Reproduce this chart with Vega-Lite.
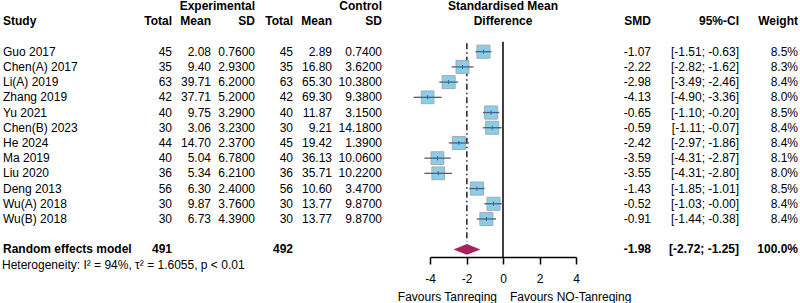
{
  "$schema": "https://vega.github.io/schema/vega-lite/v6.json",
  "autosize": {"type": "pad"},
  "padding": 0,
  "spacing": 0,
  "bounds": "flush",
  "background": "white",
  "datasets": {
    "s": [
      {"study": "Guo 2017", "order": 1, "e_total": 45, "e_mean": 2.08, "e_sd": 0.76, "c_total": 45, "c_mean": 2.89, "c_sd": 0.74, "smd": -1.07, "lo": -1.51, "hi": -0.63, "ci": "[-1.51; -0.63]", "weight": 8.5},
      {"study": "Chen(A) 2017", "order": 2, "e_total": 35, "e_mean": 9.40, "e_sd": 2.93, "c_total": 35, "c_mean": 16.80, "c_sd": 3.62, "smd": -2.22, "lo": -2.82, "hi": -1.62, "ci": "[-2.82; -1.62]", "weight": 8.3},
      {"study": "Li(A) 2019", "order": 3, "e_total": 63, "e_mean": 39.71, "e_sd": 6.20, "c_total": 63, "c_mean": 65.30, "c_sd": 10.38, "smd": -2.98, "lo": -3.49, "hi": -2.46, "ci": "[-3.49; -2.46]", "weight": 8.4},
      {"study": "Zhang 2019", "order": 4, "e_total": 42, "e_mean": 37.71, "e_sd": 5.20, "c_total": 42, "c_mean": 69.30, "c_sd": 9.38, "smd": -4.13, "lo": -4.90, "hi": -3.36, "ci": "[-4.90; -3.36]", "weight": 8.0},
      {"study": "Yu 2021", "order": 5, "e_total": 40, "e_mean": 9.75, "e_sd": 3.29, "c_total": 40, "c_mean": 11.87, "c_sd": 3.15, "smd": -0.65, "lo": -1.10, "hi": -0.20, "ci": "[-1.10; -0.20]", "weight": 8.5},
      {"study": "Chen(B) 2023", "order": 6, "e_total": 30, "e_mean": 3.06, "e_sd": 3.23, "c_total": 30, "c_mean": 9.21, "c_sd": 14.18, "smd": -0.59, "lo": -1.11, "hi": -0.07, "ci": "[-1.11; -0.07]", "weight": 8.4},
      {"study": "He 2024", "order": 7, "e_total": 44, "e_mean": 14.70, "e_sd": 2.37, "c_total": 45, "c_mean": 19.42, "c_sd": 1.39, "smd": -2.42, "lo": -2.97, "hi": -1.86, "ci": "[-2.97; -1.86]", "weight": 8.4},
      {"study": "Ma 2019", "order": 8, "e_total": 40, "e_mean": 5.04, "e_sd": 6.78, "c_total": 40, "c_mean": 36.13, "c_sd": 10.06, "smd": -3.59, "lo": -4.31, "hi": -2.87, "ci": "[-4.31; -2.87]", "weight": 8.1},
      {"study": "Liu 2020", "order": 9, "e_total": 36, "e_mean": 5.34, "e_sd": 6.21, "c_total": 36, "c_mean": 35.71, "c_sd": 10.22, "smd": -3.55, "lo": -4.31, "hi": -2.80, "ci": "[-4.31; -2.80]", "weight": 8.0},
      {"study": "Deng 2013", "order": 10, "e_total": 56, "e_mean": 6.30, "e_sd": 2.40, "c_total": 56, "c_mean": 10.60, "c_sd": 3.47, "smd": -1.43, "lo": -1.85, "hi": -1.01, "ci": "[-1.85; -1.01]", "weight": 8.5},
      {"study": "Wu(A) 2018", "order": 11, "e_total": 30, "e_mean": 9.87, "e_sd": 3.76, "c_total": 30, "c_mean": 13.77, "c_sd": 9.87, "smd": -0.52, "lo": -1.03, "hi": -0.00, "ci": "[-1.03; -0.00]", "weight": 8.4},
      {"study": "Wu(B) 2018", "order": 12, "e_total": 30, "e_mean": 6.73, "e_sd": 4.39, "c_total": 30, "c_mean": 13.77, "c_sd": 9.87, "smd": -0.91, "lo": -1.44, "hi": -0.38, "ci": "[-1.44; -0.38]", "weight": 8.4}
    ],
    "sum": [
      {"label": "Random effects model", "order": 14, "e_total": 491, "c_total": 492, "smd": -1.98, "lo": -2.72, "hi": -1.25, "ci": "[-2.72; -1.25]", "weight": 100.0}
    ]
  },
  "hconcat": [
    {
      "width": 172, "height": 257,
      "encoding": {"y": {"field": "order", "type": "quantitative", "scale": {"domain": [-2.4, 14.5], "reverse": true, "nice": false, "zero": false}, "axis": null}},
      "layer": [
        {"data": {"name": "s"}, "mark": {"type": "text", "align": "left", "x": 0, "dx": 3}, "encoding": {"text": {"field": "study"}}},
        {"data": {"name": "s"}, "mark": {"type": "text", "align": "right", "x": "width"}, "encoding": {"text": {"field": "e_total"}}},
        {"data": {"values": [{"label": "Study", "order": -1}]}, "mark": {"type": "text", "align": "left", "x": 0, "dx": 3, "fontWeight": "bold"}, "encoding": {"text": {"field": "label"}}},
        {"data": {"values": [{"label": "Total", "order": -1}]}, "mark": {"type": "text", "align": "right", "x": "width", "fontWeight": "bold"}, "encoding": {"text": {"field": "label"}}},
        {"data": {"name": "sum"}, "mark": {"type": "text", "align": "left", "x": 0, "dx": 3, "fontWeight": "bold"}, "encoding": {"text": {"field": "label"}}},
        {"data": {"name": "sum"}, "mark": {"type": "text", "align": "right", "x": "width", "fontWeight": "bold"}, "encoding": {"text": {"field": "e_total"}}},
        {"data": {"values": [{"label": "Heterogeneity: I² = 94%, τ² = 1.6055, p < 0.01", "order": 15}]}, "mark": {"type": "text", "align": "left", "x": 0, "dx": 2}, "encoding": {"text": {"field": "label"}}}
      ]
    },
    {
      "width": 39, "height": 257,
      "encoding": {"y": {"field": "order", "type": "quantitative", "scale": {"domain": [-2.4, 14.5], "reverse": true, "nice": false, "zero": false}, "axis": null}},
      "layer": [
        {"data": {"name": "s"}, "mark": {"type": "text", "align": "right", "x": "width"}, "encoding": {"text": {"field": "e_mean", "type": "quantitative", "format": ".2f"}}},
        {"data": {"values": [{"label": "Mean", "order": -1}]}, "mark": {"type": "text", "align": "right", "x": "width", "fontWeight": "bold"}, "encoding": {"text": {"field": "label"}}}
      ]
    },
    {
      "width": 44, "height": 257,
      "encoding": {"y": {"field": "order", "type": "quantitative", "scale": {"domain": [-2.4, 14.5], "reverse": true, "nice": false, "zero": false}, "axis": null}},
      "layer": [
        {"data": {"name": "s"}, "mark": {"type": "text", "align": "right", "x": "width"}, "encoding": {"text": {"field": "e_sd", "type": "quantitative", "format": ".4f"}}},
        {"data": {"values": [{"label": "SD", "order": -1}, {"label": "Experimental", "order": -2}]}, "mark": {"type": "text", "align": "right", "x": "width", "fontWeight": "bold"}, "encoding": {"text": {"field": "label"}}}
      ]
    },
    {
      "width": 38, "height": 257,
      "encoding": {"y": {"field": "order", "type": "quantitative", "scale": {"domain": [-2.4, 14.5], "reverse": true, "nice": false, "zero": false}, "axis": null}},
      "layer": [
        {"data": {"name": "s"}, "mark": {"type": "text", "align": "right", "x": "width"}, "encoding": {"text": {"field": "c_total"}}},
        {"data": {"values": [{"label": "Total", "order": -1}]}, "mark": {"type": "text", "align": "right", "x": "width", "fontWeight": "bold"}, "encoding": {"text": {"field": "label"}}},
        {"data": {"name": "sum"}, "mark": {"type": "text", "align": "right", "x": "width", "fontWeight": "bold"}, "encoding": {"text": {"field": "c_total"}}}
      ]
    },
    {
      "width": 39, "height": 257,
      "encoding": {"y": {"field": "order", "type": "quantitative", "scale": {"domain": [-2.4, 14.5], "reverse": true, "nice": false, "zero": false}, "axis": null}},
      "layer": [
        {"data": {"name": "s"}, "mark": {"type": "text", "align": "right", "x": "width"}, "encoding": {"text": {"field": "c_mean", "type": "quantitative", "format": ".2f"}}},
        {"data": {"values": [{"label": "Mean", "order": -1}]}, "mark": {"type": "text", "align": "right", "x": "width", "fontWeight": "bold"}, "encoding": {"text": {"field": "label"}}}
      ]
    },
    {
      "width": 50, "height": 257,
      "encoding": {"y": {"field": "order", "type": "quantitative", "scale": {"domain": [-2.4, 14.5], "reverse": true, "nice": false, "zero": false}, "axis": null}},
      "layer": [
        {"data": {"name": "s"}, "mark": {"type": "text", "align": "right", "x": "width"}, "encoding": {"text": {"field": "c_sd", "type": "quantitative", "format": ".4f"}}},
        {"data": {"values": [{"label": "SD", "order": -1}, {"label": "Control", "order": -2}]}, "mark": {"type": "text", "align": "right", "x": "width", "fontWeight": "bold"}, "encoding": {"text": {"field": "label"}}}
      ]
    },
    {
      "width": 48, "height": 257,
      "data": {"values": [{"label": ""}]},
      "mark": {"type": "text"},
      "encoding": {"text": {"field": "label"}}
    },
    {
      "width": 146, "height": 257,
      "encoding": {
        "y": {"field": "order", "type": "quantitative", "scale": {"domain": [-2.4, 14.5], "reverse": true, "nice": false, "zero": false}, "axis": null}
      },
      "layer": [
        {"data": {"values": [{"order": 0}]}, "mark": {"type": "rule", "color": "black", "strokeWidth": 1.5},
         "encoding": {"x": {"datum": 0, "type": "quantitative", "scale": {"domain": [-4, 4], "nice": false, "zero": false}, "axis": {"values": [-4, -2, 0, 2, 4], "tickCount": 5, "title": null, "grid": false, "format": "d", "labelOverlap": false, "labelFlush": false}},
           "y": {"datum": 0.34}, "y2": {"datum": 14.5}}},
        {"data": {"name": "sum"}, "mark": {"type": "rule", "color": "black", "strokeWidth": 1.3, "strokeDash": [6, 3, 1.5, 3]},
         "encoding": {"x": {"field": "smd", "type": "quantitative", "scale": {"domain": [-4, 4], "nice": false, "zero": false}, "axis": {"values": [-4, -2, 0, 2, 4], "tickCount": 5, "title": null, "grid": false, "format": "d", "labelOverlap": false, "labelFlush": false}}, "y": {"datum": 0.45}, "y2": {"datum": 13.5}}},
        {"data": {"name": "s"}, "mark": {"type": "point", "shape": "square", "filled": true, "fill": "#87CEEB", "stroke": "#a8a8a8", "strokeWidth": 1, "opacity": 1},
         "encoding": {"x": {"field": "smd", "type": "quantitative", "scale": {"domain": [-4, 4], "nice": false, "zero": false}, "axis": {"values": [-4, -2, 0, 2, 4], "tickCount": 5, "title": null, "grid": false, "format": "d", "labelOverlap": false, "labelFlush": false}},
           "size": {"field": "weight", "type": "quantitative", "scale": {"domain": [0, 8.5], "range": [0, 172]}, "legend": null}}},
        {"data": {"name": "s"}, "mark": {"type": "rule", "color": "#4f5f7a", "strokeWidth": 1.3},
         "encoding": {"x": {"field": "lo", "type": "quantitative", "scale": {"domain": [-4, 4], "nice": false, "zero": false}, "axis": {"values": [-4, -2, 0, 2, 4], "tickCount": 5, "title": null, "grid": false, "format": "d", "labelOverlap": false, "labelFlush": false}}, "x2": {"field": "hi"}}},
        {"data": {"name": "s"}, "mark": {"type": "tick", "orient": "vertical", "size": 4, "thickness": 1, "color": "#4f5f7a", "opacity": 1},
         "encoding": {"x": {"field": "smd", "type": "quantitative", "scale": {"domain": [-4, 4], "nice": false, "zero": false}, "axis": {"values": [-4, -2, 0, 2, 4], "tickCount": 5, "title": null, "grid": false, "format": "d", "labelOverlap": false, "labelFlush": false}}}},
        {"data": {"name": "sum"}, "mark": {"type": "point", "shape": "M-1,0L0,-0.4L1,0L0,0.4Z", "filled": true, "fill": "#A8235C", "strokeWidth": 0, "size": 720, "opacity": 1},
         "encoding": {"x": {"field": "smd", "type": "quantitative", "scale": {"domain": [-4, 4], "nice": false, "zero": false}, "axis": {"values": [-4, -2, 0, 2, 4], "tickCount": 5, "title": null, "grid": false, "format": "d", "labelOverlap": false, "labelFlush": false}}}},
        {"data": {"values": [{"label": "Standardised Mean", "order": -2}, {"label": "Difference", "order": -1}]}, "mark": {"type": "text", "align": "center", "fontWeight": "bold"},
         "encoding": {"x": {"datum": 0, "type": "quantitative", "scale": {"domain": [-4, 4], "nice": false, "zero": false}, "axis": {"values": [-4, -2, 0, 2, 4], "tickCount": 5, "title": null, "grid": false, "format": "d", "labelOverlap": false, "labelFlush": false}}, "text": {"field": "label"}}},
        {"data": {"values": [{"label": "Favours Tanreqing", "order": 17.1}]}, "mark": {"type": "text", "align": "right", "dx": -6},
         "encoding": {"x": {"datum": 0, "type": "quantitative", "scale": {"domain": [-4, 4], "nice": false, "zero": false}, "axis": {"values": [-4, -2, 0, 2, 4], "tickCount": 5, "title": null, "grid": false, "format": "d", "labelOverlap": false, "labelFlush": false}}, "text": {"field": "label"}}},
        {"data": {"values": [{"label": "Favours NO-Tanreqing", "order": 17.1}]}, "mark": {"type": "text", "align": "left", "dx": 7},
         "encoding": {"x": {"datum": 0, "type": "quantitative", "scale": {"domain": [-4, 4], "nice": false, "zero": false}, "axis": {"values": [-4, -2, 0, 2, 4], "tickCount": 5, "title": null, "grid": false, "format": "d", "labelOverlap": false, "labelFlush": false}}, "text": {"field": "label"}}}
      ]
    },
    {
      "width": 75, "height": 257,
      "encoding": {"y": {"field": "order", "type": "quantitative", "scale": {"domain": [-2.4, 14.5], "reverse": true, "nice": false, "zero": false}, "axis": null}},
      "layer": [
        {"data": {"name": "s"}, "mark": {"type": "text", "align": "right", "x": "width"}, "encoding": {"text": {"field": "smd", "type": "quantitative", "format": ".2f"}}},
        {"data": {"values": [{"label": "SMD", "order": -1}]}, "mark": {"type": "text", "align": "right", "x": "width", "fontWeight": "bold"}, "encoding": {"text": {"field": "label"}}},
        {"data": {"name": "sum"}, "mark": {"type": "text", "align": "right", "x": "width", "fontWeight": "bold"}, "encoding": {"text": {"field": "smd", "type": "quantitative", "format": ".2f"}}}
      ]
    },
    {
      "width": 88, "height": 257,
      "encoding": {"y": {"field": "order", "type": "quantitative", "scale": {"domain": [-2.4, 14.5], "reverse": true, "nice": false, "zero": false}, "axis": null}},
      "layer": [
        {"data": {"name": "s"}, "mark": {"type": "text", "align": "right", "x": "width"}, "encoding": {"text": {"field": "ci"}}},
        {"data": {"values": [{"label": "95%-CI", "order": -1}]}, "mark": {"type": "text", "align": "right", "x": "width", "fontWeight": "bold"}, "encoding": {"text": {"field": "label"}}},
        {"data": {"name": "sum"}, "mark": {"type": "text", "align": "right", "x": "width", "fontWeight": "bold"}, "encoding": {"text": {"field": "ci"}}}
      ]
    },
    {
      "width": 59, "height": 257,
      "encoding": {"y": {"field": "order", "type": "quantitative", "scale": {"domain": [-2.4, 14.5], "reverse": true, "nice": false, "zero": false}, "axis": null}},
      "layer": [
        {"data": {"name": "s"}, "transform": [{"calculate": "format(datum.weight, '.1f') + '%'", "as": "wlabel"}], "mark": {"type": "text", "align": "right", "x": "width"}, "encoding": {"text": {"field": "wlabel"}}},
        {"data": {"values": [{"label": "Weight", "order": -1}]}, "mark": {"type": "text", "align": "right", "x": "width", "fontWeight": "bold"}, "encoding": {"text": {"field": "label"}}},
        {"data": {"name": "sum"}, "transform": [{"calculate": "format(datum.weight, '.1f') + '%'", "as": "wlabel"}], "mark": {"type": "text", "align": "right", "x": "width", "fontWeight": "bold"}, "encoding": {"text": {"field": "wlabel"}}}
      ]
    }
  ],
  "config": {
    "view": {"stroke": null},
    "text": {"font": "Liberation Sans", "fontSize": 12, "baseline": "middle", "color": "black"},
    "axisX": {"domainColor": "black", "domainWidth": 1.5, "tickColor": "black", "tickWidth": 1.5, "tickSize": 7, "labelFont": "Liberation Sans", "labelFontSize": 12, "labelColor": "black", "labelPadding": 9},
    "locale": {"number": {"decimal": ".", "thousands": ",", "grouping": [3], "currency": ["$", ""], "minus": "-"}}
  }
}
